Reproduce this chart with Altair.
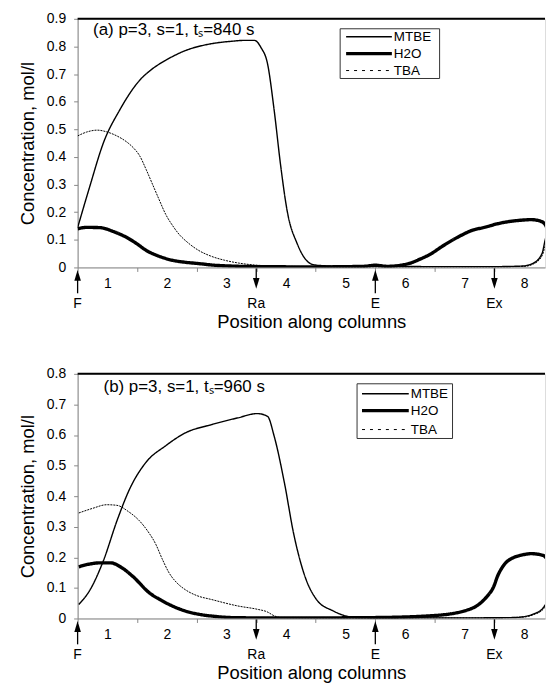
import altair as alt
import pandas as pd

# ---------------- data (position along columns, concentration mol/l) ----------------
species = ["MTBE", "H2O", "TBA"]

# panel (a)
a_mtbe_x = [0, 0.2, 0.435, 0.71, 1.04, 1.25, 1.48, 1.81, 2.25, 2.6, 2.8, 2.97, 3.08, 3.19, 3.30, 3.41, 3.52, 3.69, 3.91, 4.02, 4.5, 5.0, 6.0, 7.0, 7.47, 7.64, 7.8, 7.85, 7.9]
a_mtbe_y = [0.144, 0.29, 0.452, 0.571, 0.677, 0.718, 0.75, 0.785, 0.81, 0.819, 0.822, 0.822, 0.796, 0.737, 0.571, 0.369, 0.204, 0.085, 0.014, 0.008, 0.004, 0.004, 0.003, 0.003, 0.005, 0.014, 0.05, 0.097, 0.135]
a_h2o_x = [0, 0.15, 0.38, 0.6, 0.82, 1.0, 1.15, 1.35, 1.59, 1.8, 2.03, 2.3, 2.58, 3.0, 4.0, 4.8, 5.0, 5.2, 5.56, 5.75, 5.94, 6.1, 6.28, 6.45, 6.61, 6.85, 7.05, 7.16, 7.4, 7.62, 7.78, 7.85, 7.9]
a_h2o_y = [0.14, 0.145, 0.144, 0.13, 0.109, 0.085, 0.062, 0.042, 0.026, 0.019, 0.014, 0.008, 0.005, 0.003, 0.002, 0.004, 0.008, 0.004, 0.014, 0.03, 0.05, 0.073, 0.097, 0.117, 0.133, 0.146, 0.158, 0.163, 0.17, 0.173, 0.167, 0.156, 0.135]
a_tba_x = [0, 0.15, 0.33, 0.5, 0.66, 0.85, 0.95, 1.04, 1.15, 1.26, 1.37, 1.48, 1.6, 1.7, 1.85, 2.03, 2.25, 2.47, 2.7, 3.02, 3.5, 4.0, 5.0, 6.0, 7.0, 7.5, 7.65, 7.8, 7.86, 7.9]
a_tba_y = [0.476, 0.49, 0.497, 0.49, 0.476, 0.45, 0.43, 0.405, 0.355, 0.3, 0.245, 0.192, 0.15, 0.121, 0.09, 0.062, 0.04, 0.026, 0.016, 0.008, 0.004, 0.003, 0.002, 0.002, 0.002, 0.004, 0.012, 0.042, 0.085, 0.12]

# panel (b)
b_mtbe_x = [0.02, 0.21, 0.435, 0.66, 0.88, 1.15, 1.48, 1.81, 2.25, 2.69, 3.02, 3.19, 3.30, 3.47, 3.63, 3.80, 4.02, 4.29, 4.51, 4.73, 5.5, 6.5, 7.3, 7.5, 7.65, 7.82, 7.9]
b_mtbe_y = [0.046, 0.094, 0.19, 0.319, 0.426, 0.511, 0.565, 0.607, 0.634, 0.656, 0.67, 0.661, 0.597, 0.447, 0.276, 0.148, 0.06, 0.025, 0.008, 0.003, 0.002, 0.002, 0.003, 0.006, 0.014, 0.035, 0.06]
b_h2o_x = [0.02, 0.2, 0.38, 0.55, 0.75, 0.93, 1.21, 1.4, 1.59, 1.8, 2.03, 2.3, 2.58, 3.0, 4.0, 5.0, 5.94, 6.5, 6.77, 6.88, 6.99, 7.05, 7.16, 7.33, 7.45, 7.62, 7.82, 7.9]
b_h2o_y = [0.169, 0.178, 0.182, 0.182, 0.165, 0.137, 0.083, 0.06, 0.041, 0.025, 0.014, 0.007, 0.003, 0.002, 0.002, 0.003, 0.009, 0.025, 0.051, 0.073, 0.105, 0.137, 0.175, 0.2, 0.207, 0.212, 0.206, 0.19]
b_tba_x = [0.02, 0.25, 0.49, 0.66, 0.85, 1.04, 1.18, 1.31, 1.42, 1.54, 1.66, 1.81, 2.0, 2.25, 2.69, 3.02, 3.18, 3.3, 3.41, 4.0, 5.0, 6.0, 7.0, 7.5, 7.65, 7.82, 7.9]
b_tba_y = [0.345, 0.36, 0.372, 0.37, 0.35, 0.319, 0.285, 0.244, 0.195, 0.148, 0.118, 0.094, 0.075, 0.062, 0.041, 0.03, 0.022, 0.009, 0.003, 0.002, 0.002, 0.002, 0.002, 0.005, 0.012, 0.03, 0.05]

# port markers
port_pos = [0, 3, 5, 7]
port_dir = ["up", "down", "up", "down"]
port_lbl = ["F", "Ra", "E", "Ex"]

col_label_pos = [0.5, 1.5, 2.5, 3.5, 4.5, 5.5, 6.5, 7.5]
col_bounds = [0, 1, 2, 3, 4, 5, 6, 7]

titles = ["(a) p=3, s=1, t\u209b=840 s", "(b) p=3, s=1, t\u209b=960 s"]

# ---------------- styling ----------------
FONT = "Liberation Sans"
X_MAX = 7.85
W = 470
UP_PATH = "M0,-1L0.6,1L-0.6,1Z"
DOWN_PATH = "M0,1L0.6,-1L-0.6,-1Z"
STYLE = {"MTBE": (1.4, [1, 0]), "H2O": (3.4, [1, 0]), "TBA": (1.0, [2, 1])}
LEG_DASH = {"MTBE": [1, 0], "H2O": [1, 0], "TBA": [3, 5]}


def panel(mx, my, hx, hy, tx, ty, ymax, yvals, H, title, tpos, leg):
    rows = []
    for name, xs, ys in [("MTBE", mx, my), ("H2O", hx, hy), ("TBA", tx, ty)]:
        for i, (x, y) in enumerate(zip(xs, ys)):
            rows.append({"species": name, "pos": x, "conc": y, "ord": i})
    df = pd.DataFrame(rows)

    xscale = alt.Scale(domain=[0, X_MAX], nice=False, zero=False)
    yscale = alt.Scale(domain=[0, ymax], nice=False, zero=False)

    xaxis = alt.Axis(
        title="Position along columns",
        values=sorted(col_bounds + col_label_pos),
        labelExpr="datum.value % 1 == 0.5 ? format(datum.value + 0.5, 'd') : ''",
        tickOpacity={"condition": {"test": "datum.value % 1 == 0", "value": 1}, "value": 0},
        tickSize=4, labelPadding=5, titlePadding=22, labelFlush=False, labelOverlap=False,
        labelFontSize=14, titleFontSize=18.5, titleFontWeight="normal", grid=False,
    )
    yaxis = alt.Axis(
        title="Concentration, mol/l",
        values=yvals,
        labelExpr="datum.value == 0 ? '0' : format(datum.value, '.1f')",
        tickSize=4, labelPadding=8, titlePadding=9, labelOverlap=False, labelFlush=False,
        labelFontSize=14, titleFontSize=18.5, titleFontWeight="normal", grid=False,
    )

    def X(field="pos:Q"):
        return alt.X(field, scale=xscale, axis=xaxis)

    def Y(field="conc:Q"):
        return alt.Y(field, scale=yscale, axis=yaxis)

    layers = []
    for name in species:
        sw, dash = STYLE[name]
        layers.append(
            alt.Chart(df).transform_filter(alt.datum.species == name)
            .mark_line(clip=True, interpolate="monotone", color="black", strokeWidth=sw, strokeDash=dash)
            .encode(x=X(), y=Y(), order="ord:Q")
        )

    # top frame line
    layers.append(
        alt.Chart(pd.DataFrame({"pos": [0], "pos2": [X_MAX], "conc": [ymax]}))
        .mark_rule(color="black", strokeWidth=2)
        .encode(x=X(), x2="pos2:Q", y=Y())
    )

    # panel annotation
    layers.append(
        alt.Chart(pd.DataFrame({"t": [title], "pos": [tpos[0]], "conc": [tpos[1]]}))
        .mark_text(align="left", baseline="alphabetic", fontSize=17, font=FONT, color="black")
        .encode(x=X(), y=Y(), text="t:N")
    )

    # ports
    pdf = pd.DataFrame({"pos": port_pos, "dir": port_dir, "lbl": port_lbl})
    base = alt.Chart(pdf)
    layers += [
        base.transform_filter("datum.dir == 'up'").mark_rule(color="black", strokeWidth=1.3).encode(
            x=X(), y=alt.value(H + 8), y2=alt.value(H + 26)),
        base.transform_filter("datum.dir == 'down'").mark_rule(color="black", strokeWidth=1.3).encode(
            x=X(), y=alt.value(H + 1), y2=alt.value(H + 15)),
        base.transform_filter("datum.dir == 'up'").mark_point(
            shape=UP_PATH, filled=True, size=121, color="black", opacity=1).encode(
            x=X(), y=alt.value(H + 8)),
        base.transform_filter("datum.dir == 'down'").mark_point(
            shape=DOWN_PATH, filled=True, size=121, color="black", opacity=1).encode(
            x=X(), y=alt.value(H + 16)),
        base.mark_text(fontSize=14, font=FONT, color="black", baseline="middle").encode(
            x=X(), y=alt.value(H + 37), text="lbl:N"),
    ]

    # legend box (manual)
    lx, ly, lw, lh, rows_y, sym_x0, sym_x1 = leg
    one = pd.DataFrame({"k": [0]})
    layers.append(
        alt.Chart(one).mark_rect(fill="white", stroke="#333", strokeWidth=1).encode(
            x=alt.value(lx), x2=alt.value(lx + lw), y=alt.value(ly), y2=alt.value(ly + lh))
    )
    for name, ry in zip(species, rows_y):
        sw, _ = STYLE[name]
        layers.append(
            alt.Chart(pd.DataFrame({"t": [name]})).mark_rule(
                color="black", strokeWidth=sw, strokeDash=LEG_DASH[name]).encode(
                x=alt.value(sym_x0), x2=alt.value(sym_x1), y=alt.value(ry))
        )
        layers.append(
            alt.Chart(pd.DataFrame({"t": [name]})).mark_text(
                align="left", baseline="middle", fontSize=13.5, font=FONT, color="black").encode(
                x=alt.value(sym_x1 + 2), y=alt.value(ry), text="t:N")
        )

    return alt.layer(*layers).properties(width=W, height=H)


pa = panel(a_mtbe_x, a_mtbe_y, a_h2o_x, a_h2o_y, a_tba_x, a_tba_y, 0.9,
           [0, 0.1, 0.2, 0.3, 0.4, 0.5, 0.6, 0.7, 0.8, 0.9], 250, titles[0], (0.26, 0.842),
           (264, 10, 100, 50, [18, 35, 52], 270, 316))
pb = panel(b_mtbe_x, b_mtbe_y, b_h2o_x, b_h2o_y, b_tba_x, b_tba_y, 0.8,
           [0, 0.1, 0.2, 0.3, 0.4, 0.5, 0.6, 0.7, 0.8], 246, titles[1], (0.435, 0.741),
           (281, 10, 96, 55, [20, 37, 56], 286, 333))

chart = alt.vconcat(pa, pb, spacing=35).properties(
    padding={"left": 10, "top": 1, "right": 0, "bottom": 0}
).configure_view(stroke=None).configure_axis(
    domainColor="black", domainWidth=2, tickColor="black", tickWidth=1.2,
    labelColor="black", titleColor="black", labelFont=FONT, titleFont=FONT,
    titleFontWeight="normal",
).configure(font=FONT)

chart.save("out.html", embed_options={"renderer": "svg", "actions": False})
